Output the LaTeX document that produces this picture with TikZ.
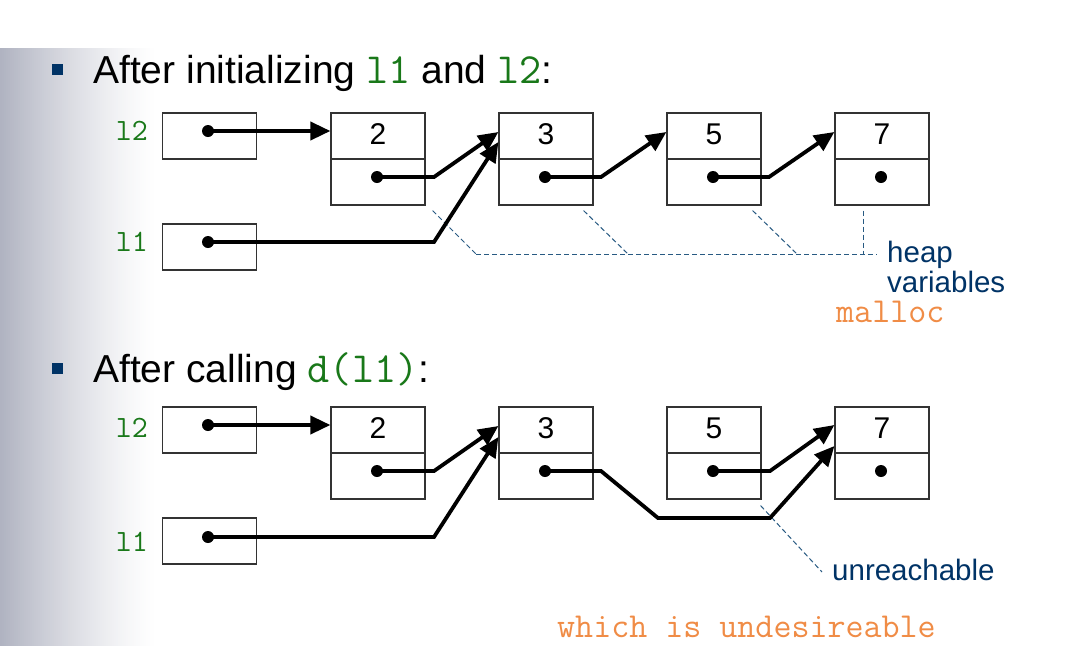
\documentclass[tikz,border=0pt]{standalone}
\usepackage{fontspec}
\setmainfont{Liberation Sans}
\usetikzlibrary{arrows.meta,calc}
\definecolor{codegreen}{RGB}{25,120,25}
\definecolor{navy}{RGB}{0,51,102}
\definecolor{orng}{RGB}{240,140,70}
\definecolor{dashc}{RGB}{40,90,130}
\definecolor{gradgray}{RGB}{176,179,193}
\begin{document}
\begin{tikzpicture}[x=1pt,y=-1pt,
  cell/.style={draw=black!80, line width=1.2pt, minimum width=94pt, minimum height=46pt, inner sep=0pt},
  valcell/.style={cell, font=\fontsize{30}{32}\selectfont, text height=21pt, text depth=0pt},
  dotc/.style={circle, fill=black, inner sep=0pt, minimum size=12pt},
  ptr/.style={line width=3.8pt, -{Triangle[length=20pt,width=18pt]}},
  heapdash/.style={draw=dashc, line width=1pt, dash pattern=on 5pt off 3pt},
  title/.style={anchor=base west, inner sep=0pt, font=\fontsize{39}{42}\selectfont},
  varlbl/.style={anchor=base east, inner sep=0pt, text=codegreen, font=\ttfamily\fontsize{31}{33}\selectfont},
  bluetext/.style={inner sep=0pt, text=navy, font=\fontsize{29.5}{30}\selectfont, align=left},
  orangetext/.style={anchor=base west, inner sep=0pt, text=orng, font=\ttfamily\fontsize{35}{37}\selectfont},
  bullet/.style={fill=navy, minimum size=11pt, inner sep=0pt}
]
\newcommand{\codetxt}[1]{{\ttfamily\fontsize{43}{44}\selectfont\color{codegreen}#1}}
\useasboundingbox (0,0) rectangle (1081,646);
\fill[white] (0,0) rectangle (1081,646);
\foreach \i in {0,...,77}{
  \pgfmathsetmacro{\pc}{100*((78-\i)/78)^1.3}
  \fill[gradgray!\pc!white] (2*\i,48) rectangle (2*\i+2.3,646);
}

% ---------- section 1 ----------
\node[bullet] (b1) at (57.5,69) {};
\node[title] (t1) at (93,83) {After initializing \codetxt{l1} and \codetxt{l2}:};

\node[varlbl] (lab2) at (148,140) {l2};
\node[varlbl] (lab1) at (148,251) {l1};
\node[cell] (v2) at (209.5,136) {};
\node[cell] (v1) at (209.5,247) {};

\foreach \n/\x in {2/378,3/546,5/714,7/882}{
  \node[valcell] (a\n v) at (\x,136) {\raisebox{2.5pt}{\n}};
  \node[cell] (a\n p) at (\x,182) {};
}
\node[dotc] (dv2) at (208,131) {};
\node[dotc] (dv1) at (208,242) {};
\node[dotc] (d2) at (377,177) {};
\node[dotc] (d3) at (545,177) {};
\node[dotc] (d5) at (713,177) {};
\node[dotc] (d7) at (881,177) {};

% heap variables dashed lines
\node[bluetext, anchor=west] (heap) at (887,267) {heap\\variables};
\coordinate (h1) at (476,254);
\coordinate (h2) at (628,254);
\coordinate (h3) at (797,254);
\coordinate (h4) at (863,254);
\coordinate (hend) at (877,254);
\draw[heapdash] (h1) -- (hend);
\draw[heapdash] ($(a2p.south east)+(7,5)$) -- (h1);
\draw[heapdash] ($(a3p.south east)+(-10,5)$) -- (h2);
\draw[heapdash] ($(a5p.south east)+(-9,5)$) -- (h3);
\draw[heapdash] ($(a7p.south)+(-19,5)$) -- (h4);
\node[orangetext] (mal) at (836,322) {malloc};

\draw[ptr] (dv2.center) -- ($(a2v.west)+(0,-5)$);
\draw[ptr] (d2.center) -- ++(57,0) -- ($(a3v.west)+(0,-4)$);
\draw[ptr] (dv1.center) -- ++(226,0) -- ($(a3v.west)+(0,6)$);
\draw[ptr] (d3.center) -- ++(56,0) -- ($(a5v.west)+(0,-4)$);
\draw[ptr] (d5.center) -- ++(56,0) -- ($(a7v.west)+(0,-4)$);

% ---------- section 2 ----------
\node[bullet] (b2) at (57.5,368) {};
\node[title] (t2) at (93,382) {After calling \codetxt{d(l1)}:};

\node[varlbl] (blab2) at (148,437) {l2};
\node[varlbl] (blab1) at (148,551) {l1};
\node[cell] (bv2) at (209.5,430) {};
\node[cell] (bv1) at (209.5,541) {};

\foreach \n/\x in {2/378,3/546,5/714,7/882}{
  \node[valcell] (b\n v) at (\x,430) {\raisebox{2.5pt}{\n}};
  \node[cell] (b\n p) at (\x,476) {};
}
\node[dotc] (bdv2) at (208,425) {};
\node[dotc] (bdv1) at (208,537) {};
\node[dotc] (bd2) at (377,471) {};
\node[dotc] (bd3) at (545,471) {};
\node[dotc] (bd5) at (713,471) {};
\node[dotc] (bd7) at (881,471) {};

\node[bluetext, anchor=base west] (unr) at (832,580) {unreachable};
\coordinate (uend) at (822,572);
\draw[heapdash] ($(b5p.south east)+(-1,6)$) -- (uend);

\draw[ptr] (bdv2.center) -- ($(b2v.west)+(0,-5)$);
\draw[ptr] (bd2.center) -- ++(57,0) -- ($(b3v.west)+(0,-4)$);
\draw[ptr] (bdv1.center) -- ++(226,0) -- ($(b3v.west)+(0,7)$);
\draw[ptr] (bd3.center) -- ++(56,0) -- (658,518) -- (770,518) -- ($(b7v.west)+(0,16)$);
\draw[ptr] (bd5.center) -- ++(57,0) -- ($(b7v.west)+(0,-5)$);

\node[orangetext] (und) at (557,637) {which is undesireable};
\end{tikzpicture}
\end{document}
